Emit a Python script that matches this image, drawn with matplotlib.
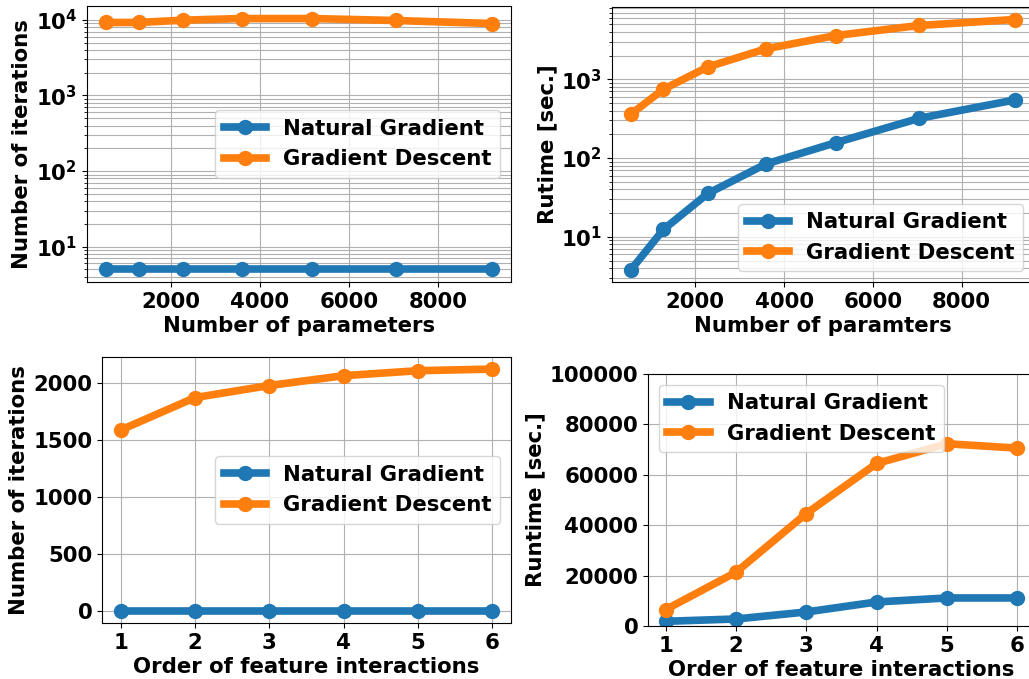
import numpy as np
import matplotlib
matplotlib.use("Agg")
import matplotlib.pyplot as plt

plt.rcParams['font.family'] = ['DejaVu Sans']
plt.rcParams['font.weight'] = 'bold'
plt.rcParams['axes.labelweight'] = 'bold'
plt.rcParams['font.size'] = 15.3
plt.rcParams['axes.labelpad'] = 3

# data
n_params = [554, 1281, 2285, 3588, 5169, 7041, 9199]
iters_ng_params = [5, 5, 5, 5, 5, 5, 5]
iters_gd_params = [9230, 9230, 9900, 10400, 10400, 9800, 8940]
time_ng_params = [3.85, 12.4, 35.6, 84, 157, 319, 546]
time_gd_params = [362, 747, 1435, 2432, 3590, 4810, 5730]

order = [1, 2, 3, 4, 5, 6]
iters_ng_order = [5, 5, 5, 5, 5, 5]
iters_gd_order = [1591, 1876, 1982, 2068, 2112, 2126]
time_ng_order = [1854, 2781, 5563, 9536, 11126, 11126]
time_gd_order = [6490, 21325, 44636, 64503, 72318, 70596]

labels = ['Natural Gradient', 'Gradient Descent']
c_ng = '#1f77b4'
c_gd = '#ff7f0e'
lw = 5.5
ms = 10

W, H = 1029, 679
fig = plt.figure(figsize=(W / 100, H / 100), dpi=100)

def box(l, t, r, b):
    return [l / W, 1 - b / H, (r - l) / W, (b - t) / H]

ax1 = fig.add_axes(box(87, 6, 511, 282))
ax2 = fig.add_axes(box(612, 7, 1034, 282))
ax3 = fig.add_axes(box(102, 357, 511, 623))
ax4 = fig.add_axes(box(648, 374, 1035, 626))

# top left
ax1.plot(n_params, iters_ng_params, 'o-', color=c_ng, lw=lw, ms=ms, label=labels[0])
ax1.plot(n_params, iters_gd_params, 'o-', color=c_gd, lw=lw, ms=ms, label=labels[1])
ax1.set_yscale('log')
ax1.grid(True, which='both')
ax1.set_xlabel('Number of parameters')
ax1.set_ylabel('Number of iterations')
ax1.legend(loc='center right')

# top right
ax2.plot(n_params, time_ng_params, 'o-', color=c_ng, lw=lw, ms=ms, label=labels[0])
ax2.plot(n_params, time_gd_params, 'o-', color=c_gd, lw=lw, ms=ms, label=labels[1])
ax2.set_yscale('log')
ax2.grid(True, which='both')
ax2.set_xlabel('Number of paramters')
ax2.set_ylabel('Rutime [sec.]')
ax2.legend(loc='lower right')

# bottom left
ax3.plot(order, iters_ng_order, 'o-', color=c_ng, lw=lw, ms=ms, label=labels[0])
ax3.plot(order, iters_gd_order, 'o-', color=c_gd, lw=lw, ms=ms, label=labels[1])
ax3.grid(True)
ax3.set_xlabel('Order of feature interactions')
ax3.set_ylabel('Number of iterations')
ax3.legend(loc='center right')

# bottom right
ax4.plot(order, time_ng_order, 'o-', color=c_ng, lw=lw, ms=ms, label=labels[0])
ax4.plot(order, time_gd_order, 'o-', color=c_gd, lw=lw, ms=ms, label=labels[1])
ax4.set_ylim(0, 100000)
ax4.grid(True)
ax4.set_xlabel('Order of feature interactions')
ax4.set_ylabel('Runtime [sec.]')
ax4.legend(loc='upper left')

fig.savefig('out.png', dpi=100)
